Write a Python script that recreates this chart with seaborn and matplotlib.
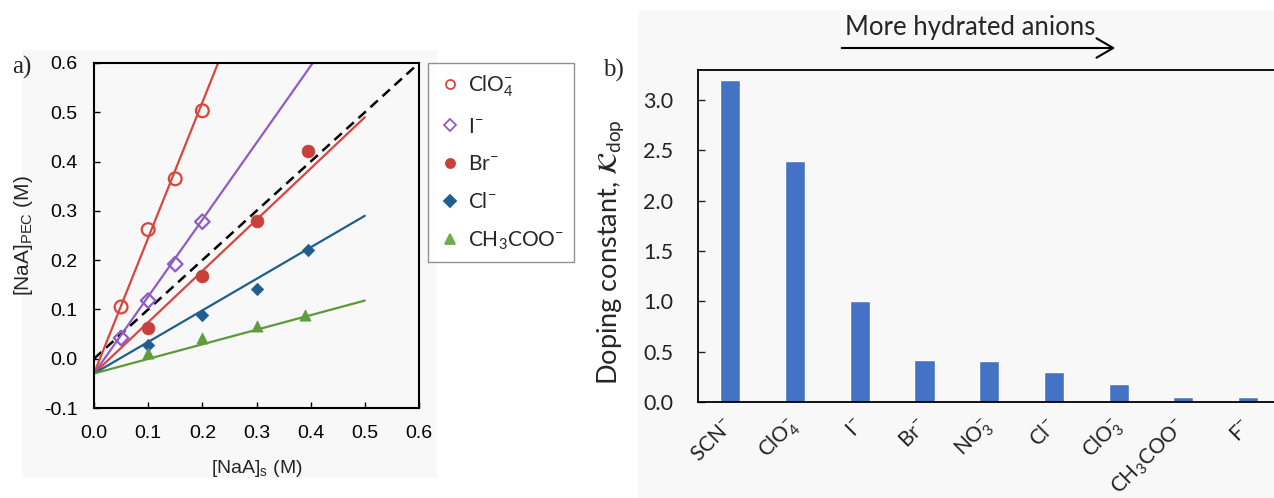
import numpy as np
import pandas as pd
import matplotlib
matplotlib.use("Agg")
import matplotlib.pyplot as plt
from matplotlib.lines import Line2D
from matplotlib.patches import Rectangle, FancyArrowPatch
import seaborn as sns

# ---------------- data: panel a ----------------
series_names = ["ClO4", "I", "Br", "Cl", "CH3COO"]
legend_labels = [r"ClO$_4^{-}$", r"I$^{-}$", r"Br$^{-}$", r"Cl$^{-}$", r"CH$_3$COO$^{-}$"]
x_clo4 = [0.05, 0.10, 0.15, 0.20]
y_clo4 = [0.105, 0.262, 0.365, 0.503]
x_i = [0.05, 0.10, 0.15, 0.20]
y_i = [0.042, 0.118, 0.192, 0.278]
x_br = [0.10, 0.20, 0.30, 0.395]
y_br = [0.062, 0.167, 0.279, 0.422]
x_cl = [0.10, 0.20, 0.30, 0.395]
y_cl = [0.028, 0.089, 0.141, 0.221]
x_ac = [0.10, 0.20, 0.30, 0.39]
y_ac = [0.012, 0.043, 0.066, 0.088]
# fitted lines: slope, intercept, x-end
fit_slopes = [2.75, 1.56, 1.04, 0.64, 0.296]
fit_intercept = -0.03
fit_xend = [0.23, 0.405, 0.5, 0.5, 0.5]
diag_x = [0.0, 0.6]

# ---------------- data: panel b ----------------
anions = [r"SCN$^{-}$", r"ClO$_4^{-}$", r"I$^{-}$", r"Br$^{-}$", r"NO$_3^{-}$",
          r"Cl$^{-}$", r"ClO$_3^{-}$", r"CH$_3$COO$^{-}$", r"F$^{-}$"]
k_dop = [3.20, 2.40, 1.00, 0.42, 0.41, 0.30, 0.18, 0.05, 0.05]

sns.set_theme(style="white")
plt.rcParams["font.family"] = ["Liberation Sans", "DejaVu Sans"]
plt.rcParams["mathtext.fontset"] = "dejavusans"
plt.rcParams["mathtext.default"] = "regular"

W, H = 1274, 498
fig = plt.figure(figsize=(W / 100, H / 100), dpi=100)
fig.patch.set_facecolor("white")

# light gray backgrounds behind panels
fig.patches.append(Rectangle((22 / W, 1 - 478 / H), 415 / W, 428 / H, transform=fig.transFigure,
                             facecolor="#f8f8f8", edgecolor="none", zorder=-10))
fig.patches.append(Rectangle((638 / W, 0), (W - 638) / W, 488 / H, transform=fig.transFigure,
                             facecolor="#f8f8f8", edgecolor="none", zorder=-10))

# ---------------- panel a ----------------
axa = fig.add_axes([94 / W, (H - 408) / H, 325 / W, 345 / H])
axa.set_facecolor("none")

colors_line = ["#d8463f", "#8e5dc4", "#d8463f", "#1f5e8e", "#5a9a3a"]
colors_mark = ["#d8463f", "#8e5dc4", "#c8403a", "#1f5e8e", "#5f9e3a"]
markers = ["o", "D", "o", "D", "^"]
filled = [False, False, True, True, True]
sizes = [85, 55, 85, 40, 65]
xs = [x_clo4, x_i, x_br, x_cl, x_ac]
ys = [y_clo4, y_i, y_br, y_cl, y_ac]

# dashed y = x
sns.lineplot(x=diag_x, y=diag_x, ax=axa, color="black", linestyle=(0, (4, 2.5)), linewidth=1.8)

for k in range(5):
    xl = np.array([0.0, fit_xend[k]])
    yl = fit_slopes[k] * xl + fit_intercept
    sns.lineplot(x=xl, y=yl, ax=axa, color=colors_line[k], linewidth=1.6)

for k in range(5):
    if filled[k]:
        sns.scatterplot(x=xs[k], y=ys[k], ax=axa, marker=markers[k], s=sizes[k],
                        color=colors_mark[k], edgecolor=colors_mark[k], linewidth=0.5, zorder=5)
    else:
        sns.scatterplot(x=xs[k], y=ys[k], ax=axa, marker=markers[k], s=sizes[k],
                        facecolors="none", edgecolor=colors_mark[k], linewidth=1.6, zorder=5)

axa.set_xlim(0, 0.6)
axa.set_ylim(-0.1, 0.6)
axa.set_xticks(np.arange(0, 0.61, 0.1))
axa.set_yticks(np.arange(-0.1, 0.61, 0.1))
axa.set_xticklabels([f"{v:.1f}" for v in np.arange(0, 0.61, 0.1)])
axa.set_yticklabels([f"{v:.1f}" for v in np.arange(-0.1, 0.61, 0.1)])
axa.tick_params(direction="in", length=4, width=1, labelsize=14, colors="black",
                bottom=True, left=True)
axa.tick_params(axis="y", pad=12)
axa.tick_params(axis="x", pad=12)
for sp in axa.spines.values():
    sp.set_color("black")
    sp.set_linewidth(1.5)
axa.set_xlabel(r"[NaA]$_{s}$ (M)", fontsize=14, labelpad=12)
axa.set_ylabel(r"[NaA]$_{PEC}$ (M)", fontsize=15, labelpad=6)

handles = []
fill_cols = [None, None, "#c8403a", "#1f5e8e", "#70ad47"]
edge_cols = ["#d8463f", "#8e5dc4", "#c8403a", "#1f5e8e", "#70ad47"]
for k in range(5):
    handles.append(Line2D([], [], linestyle="none", marker=markers[k], markersize=6.5 if k != 3 else 6,
                          markerfacecolor=("none" if fill_cols[k] is None else fill_cols[k]),
                          markeredgecolor=edge_cols[k], markeredgewidth=1.3))
leg = axa.legend(handles, legend_labels, loc="upper left", bbox_to_anchor=(1.028, 1.0),
                 borderaxespad=0, labelspacing=0.85, handletextpad=0.3,
                 handlelength=1.1, borderpad=0.5, fancybox=False, frameon=True,
                 prop={"family": ["Lato", "DejaVu Sans"], "size": 15})
leg.get_frame().set_edgecolor("#777777")
leg.get_frame().set_linewidth(1.0)
leg.get_frame().set_facecolor("white")

fig.text(12 / W, 1 - 67 / H, "a)", fontsize=18, family="Liberation Serif", va="center", ha="left")

# ---------------- panel b ----------------
axb = fig.add_axes([698 / W, (H - 402) / H, (W - 698) / W, 332 / H])
axb.set_facecolor("none")
dfb = pd.DataFrame({"anion": anions, "k": k_dop})
sns.barplot(data=dfb, x="anion", y="k", ax=axb, color="#4472c4", width=0.31, saturation=1)
axb.set_xlim(-0.5, 8.4)
axb.set_ylim(0, 3.3)
axb.set_yticks(np.arange(0, 3.01, 0.5))
axb.set_yticklabels([f"{v:.1f}" for v in np.arange(0, 3.01, 0.5)], family=["Lato", "DejaVu Sans"])
axb.tick_params(axis="y", direction="in", length=5, width=1, left=True, labelsize=15.5,
                colors="#222222", pad=18)
axb.tick_params(axis="x", length=0, labelsize=15, colors="#222222", pad=15)
axb.set_xticks(range(len(anions)))
axb.set_xticklabels(anions, rotation=45, ha="right", va="center", rotation_mode="anchor",
                    family=["Lato", "DejaVu Sans"], fontsize=15)
axb.set_xlabel("")
axb.set_ylabel(r"Doping constant, $\mathcal{K}_{dop}$", fontsize=19.5, family=["Lato", "DejaVu Sans"],
               math_fontfamily="stix", labelpad=10)
axb.yaxis.set_label_coords(-0.125, 0.45)
for side in ["top", "left", "bottom"]:
    axb.spines[side].set_color("black")
    axb.spines[side].set_linewidth(1.3)
axb.spines["right"].set_visible(False)

fig.text(613 / W, 1 - 70 / H, "b)", fontsize=18, family="Liberation Serif", va="center", ha="center")
fig.text(970 / W, 1 - 27 / H, "More hydrated anions", fontsize=18.5, family=["Lato", "DejaVu Sans"],
         va="center", ha="center")
fig.patches.append(FancyArrowPatch((839 / W, 1 - 48 / H), (1118 / W, 1 - 48 / H),
                   transform=fig.transFigure, arrowstyle="->,head_length=12,head_width=7",
                   color="black", linewidth=1.5, mutation_scale=1))

fig.savefig("out.png", dpi=100, facecolor=fig.get_facecolor())
